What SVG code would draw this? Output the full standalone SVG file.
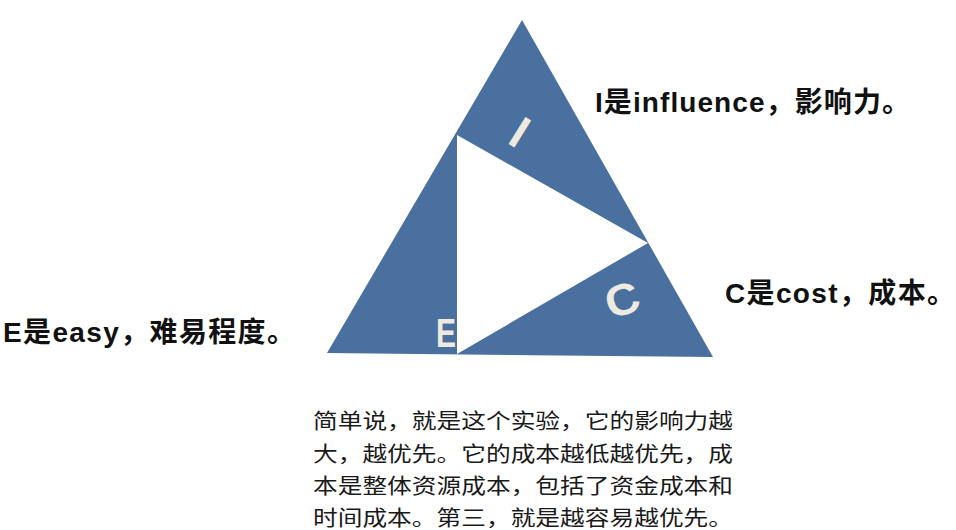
<svg xmlns="http://www.w3.org/2000/svg" width="956" height="530" viewBox="0 0 956 530">
  <style>
    .lbl { font-family: "Liberation Sans", "Noto Sans CJK SC", sans-serif; font-weight: bold; font-size: 28px; fill: #111111; }
    .para { font-family: "Noto Sans CJK SC", sans-serif; font-size: 21px; fill: #1a1a1a; }
    .tri { font-family: "Liberation Sans", "DejaVu Sans", sans-serif; font-weight: bold; fill: #eeeadf; }
  </style>
  <rect width="956" height="530" fill="#ffffff"/>
  <g id="triangle">
    <polygon points="522,20 327,353 713,357" fill="#49709f"/>
    <polygon points="457,135 648,243 457,354" fill="#ffffff"/>
  </g>
  <g id="node-I">
    <text class="tri" x="520" y="148" font-size="46" text-anchor="middle" transform="rotate(32 520 132)">I</text>
  </g>
  <g id="node-C">
    <text class="tri" x="622" y="315" font-size="44" text-anchor="middle" transform="rotate(-18 622 299)" textLength="34" lengthAdjust="spacingAndGlyphs">C</text>
  </g>
  <g id="node-E">
    <text class="tri" x="436" y="347" font-size="40" textLength="20" lengthAdjust="spacingAndGlyphs">E</text>
  </g>
  <g id="label-I">
    <text class="lbl" x="595" y="112" textLength="315">I是influence，影响力。</text>
  </g>
  <g id="label-C">
    <text class="lbl" x="725" y="303" textLength="230">C是cost，成本。</text>
  </g>
  <g id="label-E">
    <text class="lbl" x="3" y="342" textLength="292">E是easy，难易程度。</text>
  </g>
  <g id="paragraph">
    <text class="para" x="313" y="428" textLength="420" lengthAdjust="spacingAndGlyphs">简单说，就是这个实验，它的影响力越</text>
    <text class="para" x="313" y="460.5" textLength="420" lengthAdjust="spacingAndGlyphs">大，越优先。它的成本越低越优先，成</text>
    <text class="para" x="313" y="493" textLength="420" lengthAdjust="spacingAndGlyphs">本是整体资源成本，包括了资金成本和</text>
    <text class="para" x="313" y="525" textLength="420" lengthAdjust="spacingAndGlyphs">时间成本。第三，就是越容易越优先。</text>
  </g>
  <g id="connectors"></g>
</svg>
